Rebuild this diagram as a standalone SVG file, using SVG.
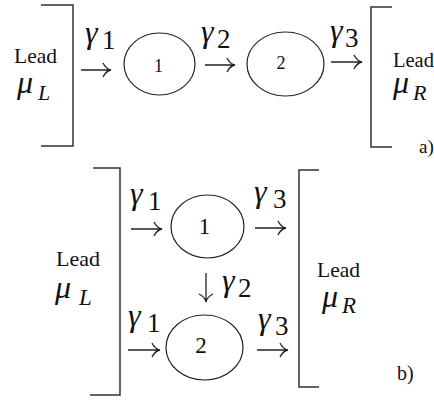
<svg xmlns="http://www.w3.org/2000/svg" width="434" height="400" viewBox="0 0 434 400">
<rect width="434" height="400" fill="#fff"/>

<!-- Part a -->
<g id="a-leadL">
<path d="M41,5 H73 V146 H41" fill="none" stroke="#333" stroke-width="1.5"/>
<text font-family="Liberation Serif" fill="#111" font-size="21.5" x="14" y="63">Lead</text>
<text font-family="Liberation Serif" fill="#111" font-style="italic" font-size="32" x="17" y="93">μ</text>
<text font-family="Liberation Serif" fill="#111" font-style="italic" font-size="22" x="38" y="100">L</text>
</g>
<g id="a-node1">
<ellipse cx="159.5" cy="64" rx="35.5" ry="31" fill="none" stroke="#222" stroke-width="1.2"/>
<text font-family="Liberation Serif" fill="#111" text-anchor="middle" font-size="18" x="158.5" y="72">1</text>
</g>
<g id="a-node2">
<ellipse cx="285.5" cy="64" rx="38.5" ry="32" fill="none" stroke="#222" stroke-width="1.2"/>
<text font-family="Liberation Serif" fill="#111" text-anchor="middle" font-size="18" x="281" y="69">2</text>
</g>
<g id="a-leadR">
<path d="M392,7 H371 V147 H392" fill="none" stroke="#333" stroke-width="1.5"/>
<text font-family="Liberation Serif" fill="#111" font-size="20.5" x="393" y="67">Lead</text>
<text font-family="Liberation Serif" fill="#111" font-style="italic" font-size="32" x="393" y="93">μ</text>
<text font-family="Liberation Serif" fill="#111" font-style="italic" font-size="22" x="413" y="100">R</text>
<text font-family="Liberation Serif" fill="#111" font-size="19" x="419" y="153">a)</text>
</g>

<!-- Part b -->
<g id="b-leadL">
<path d="M93,168 H120 V395 H90" fill="none" stroke="#333" stroke-width="1.5"/>
<text font-family="Liberation Serif" fill="#111" font-size="22" x="56" y="266">Lead</text>
<text font-family="Liberation Serif" fill="#111" font-style="italic" font-size="32" x="55" y="298">μ</text>
<text font-family="Liberation Serif" fill="#111" font-style="italic" font-size="23" x="79" y="305">L</text>
</g>
<g id="b-node1">
<ellipse cx="207.5" cy="226.5" rx="36.5" ry="31.5" fill="none" stroke="#222" stroke-width="1.2"/>
<text font-family="Liberation Serif" fill="#111" text-anchor="middle" font-size="23" x="204.5" y="234">1</text>
</g>
<g id="b-node2">
<ellipse cx="204.5" cy="347.5" rx="38.5" ry="32.5" fill="none" stroke="#222" stroke-width="1.2"/>
<text font-family="Liberation Serif" fill="#111" text-anchor="middle" font-size="23" x="201" y="353">2</text>
</g>
<g id="b-leadR">
<path d="M319,170 H299 V387 H319" fill="none" stroke="#333" stroke-width="1.5"/>
<text font-family="Liberation Serif" fill="#111" font-size="21.5" x="317" y="277">Lead</text>
<text font-family="Liberation Serif" fill="#111" font-style="italic" font-size="32" x="322" y="307">μ</text>
<text font-family="Liberation Serif" fill="#111" font-style="italic" font-size="23" x="342" y="313">R</text>
<text font-family="Liberation Serif" fill="#111" font-size="20" x="397" y="380">b)</text>
</g>

<g id="connectors">
<g fill="none" stroke="#222" stroke-width="1.3">
<path d="M81,70 H111 M103,63 Q106,69 111,70 Q106,71 103,77"/>
<path d="M205,65 H235 M227,58 Q230,64 235,65 Q230,66 227,72"/>
<path d="M331,62 H362 M354,55 Q357,61 362,62 Q357,63 354,69"/>
<path d="M131,229 H162 M154,222 Q157,228 162,229 Q157,230 154,236"/>
<path d="M255,228 H286 M278,221 Q281,227 286,228 Q281,229 278,235"/>
<path d="M206,273 V302 M199,294 Q205,297 206,302 Q207,297 213,294"/>
<path d="M128,350 H160 M152,343 Q155,349 160,350 Q155,351 152,357"/>
<path d="M257,350 H288 M280,343 Q283,349 288,350 Q283,351 280,357"/>
</g>
<text font-family="Liberation Serif" fill="#111" font-style="italic" font-size="32" x="85" y="43">γ</text>
<text font-family="Liberation Serif" fill="#111" font-size="27" x="102" y="49">1</text>
<text font-family="Liberation Serif" fill="#111" font-style="italic" font-size="32" x="201" y="42">γ</text>
<text font-family="Liberation Serif" fill="#111" font-size="27" x="217" y="48">2</text>
<text font-family="Liberation Serif" fill="#111" font-style="italic" font-size="32" x="330" y="41">γ</text>
<text font-family="Liberation Serif" fill="#111" font-size="27" x="345" y="47">3</text>
<text font-family="Liberation Serif" fill="#111" font-style="italic" font-size="32" x="130" y="204">γ</text>
<text font-family="Liberation Serif" fill="#111" font-size="27" x="148" y="210">1</text>
<text font-family="Liberation Serif" fill="#111" font-style="italic" font-size="32" x="254" y="202">γ</text>
<text font-family="Liberation Serif" fill="#111" font-size="27" x="273" y="208">3</text>
<text font-family="Liberation Serif" fill="#111" font-style="italic" font-size="32" x="222" y="291">γ</text>
<text font-family="Liberation Serif" fill="#111" font-size="27" x="238" y="297">2</text>
<text font-family="Liberation Serif" fill="#111" font-style="italic" font-size="32" x="128" y="326">γ</text>
<text font-family="Liberation Serif" fill="#111" font-size="27" x="147" y="332">1</text>
<text font-family="Liberation Serif" fill="#111" font-style="italic" font-size="32" x="258" y="329">γ</text>
<text font-family="Liberation Serif" fill="#111" font-size="27" x="275" y="335">3</text>
</g>
</svg>
